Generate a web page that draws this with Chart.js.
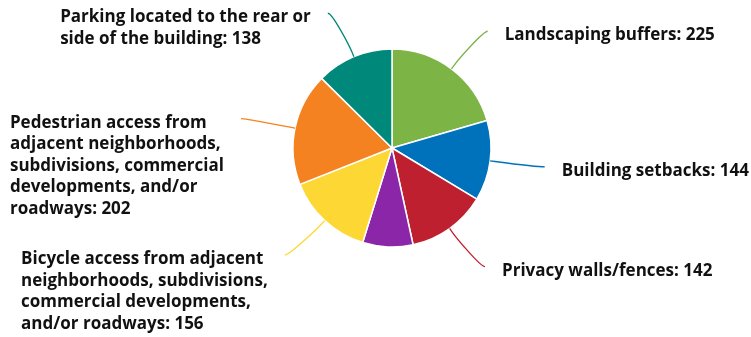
<!DOCTYPE html>
<html>
<head>
<meta charset="utf-8">
<script src="https://cdn.jsdelivr.net/npm/chart.js@4.4.1/dist/chart.umd.min.js"></script>
<style>
  html, body { margin: 0; padding: 0; background: #ffffff; }
  #wrap { position: relative; width: 751px; height: 337px; }
</style>
</head>
<body>
<div id="wrap"><canvas id="pie"></canvas></div>
<script>
// Category names, one entry per label line; the value is appended to the last line.
const categories = [
  ["Landscaping buffers"],
  ["Building setbacks"],
  ["Privacy walls/fences"],
  ["Other"],
  ["Bicycle access from adjacent", "neighborhoods, subdivisions,", "commercial developments,", "and/or roadways"],
  ["Pedestrian access from", "adjacent neighborhoods,", "subdivisions, commercial", "developments, and/or", "roadways"],
  ["Parking located to the rear or", "side of the building"]
];
const values = [225, 144, 142, 90, 156, 202, 138];
const showLabel = [true, true, true, false, true, true, true];
const colors = ["#7db446", "#0072bb", "#bf202f", "#8c26a9", "#fdd835", "#f58220", "#00897b"];

const LABEL_FONT = "bold 17px 'Open Sans', 'Noto Sans', sans-serif";
const LABEL_DISTANCE = 47;   // from pie edge to connector end
const LABEL_PADDING = 8;
const TEXT_GAP = 17;
const LINE_HEIGHT = 21.6;

// Outside labels with soft connectors (label end -> curve -> break point -> slice edge)
const outsideLabels = {
  id: 'outsideLabels',
  afterDatasetsDraw(chart) {
    const ctx = chart.ctx;
    const meta = chart.getDatasetMeta(0);
    ctx.save();
    ctx.font = LABEL_FONT;
    meta.data.forEach((arc, i) => {
      if (!showLabel[i]) return;
      const p = arc.getProps(['x', 'y', 'startAngle', 'endAngle', 'outerRadius'], true);
      const mid = (p.startAngle + p.endAngle) / 2;
      const cos = Math.cos(mid), sin = Math.sin(mid);
      const r = p.outerRadius;
      const R = r + LABEL_DISTANCE;
      const left = cos < 0;
      const touch = { x: p.x + cos * r, y: p.y + sin * r };
      const brk = { x: touch.x + cos * 5, y: touch.y + sin * 5 };
      const ey = p.y + sin * R;
      const dy = Math.max(-R, Math.min(R, ey - p.y));
      const ex = p.x + (left ? -1 : 1) * (Math.sqrt(R * R - dy * dy) + LABEL_PADDING);

      ctx.beginPath();
      ctx.moveTo(ex, ey);
      ctx.bezierCurveTo(ex + (left ? 5 : -5), ey,
                        2 * brk.x - touch.x, 2 * brk.y - touch.y,
                        brk.x, brk.y);
      ctx.lineTo(touch.x, touch.y);
      ctx.strokeStyle = colors[i];
      ctx.lineWidth = 1.3;
      ctx.stroke();

      const lines = categories[i].slice();
      lines[lines.length - 1] = lines[lines.length - 1] + ': ' + values[i];
      const maxW = Math.max(...lines.map(l => ctx.measureText(l).width));
      const tx = left ? ex - TEXT_GAP - maxW : ex + TEXT_GAP;
      ctx.fillStyle = '#111111';
      ctx.textAlign = 'left';
      ctx.textBaseline = 'middle';
      lines.forEach((l, k) => ctx.fillText(l, tx, ey + 4 + k * LINE_HEIGHT));
    });
    ctx.restore();
  }
};

new Chart(document.getElementById('pie'), {
  type: 'pie',
  data: {
    labels: categories,
    datasets: [{
      data: values,
      backgroundColor: colors,
      borderColor: '#ffffff',
      borderWidth: 1.5,
      radius: 99
    }]
  },
  options: {
    responsive: true,
    maintainAspectRatio: false,
    animation: false,
    layout: { padding: { top: 20, bottom: 61, left: 40, right: 7 } },
    plugins: {
      legend: { display: false },
      tooltip: { enabled: false }
    }
  },
  plugins: [outsideLabels]
});
</script>
</body>
</html>
